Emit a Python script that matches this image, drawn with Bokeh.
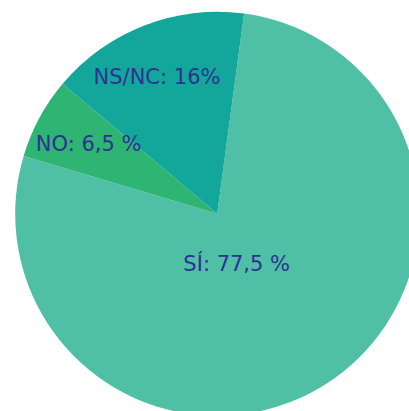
import math
from bokeh.plotting import figure
from bokeh.models import ColumnDataSource
from bokeh.core.properties import value
from bokeh.embed import file_html
from bokeh.resources import INLINE

# data
categories = ["SÍ", "NO", "NS/NC"]
percents = [77.5, 6.5, 16.0]
labels = ["SÍ: 77,5 %", "NO: 6,5 %", "NS/NC: 16%"]
colors = ["#4fbfa6", "#2eb573", "#13a69b"]

W, H = 409, 411
cx, cy = 216.7, H - 213.3
R = 202.0
start_deg = 82.35  # clockwise from here

# label placement (style): radius fraction and angle offset in degrees
label_rf = [0.265, 0.725, 0.74]
label_da = [-11.5, -0.3, 2.6]

starts, ends, lx, ly = [], [], [], []
a = start_deg
for p, rf, da in zip(percents, label_rf, label_da):
    span = p / 100 * 360
    end = a
    start = a - span
    starts.append(math.radians(start))
    ends.append(math.radians(end))
    mid = math.radians((start + end) / 2 + da)
    lx.append(cx + rf * R * math.cos(mid))
    ly.append(cy + rf * R * math.sin(mid))
    a = start

src = ColumnDataSource(dict(cat=categories, start=starts, end=ends, color=colors,
                            lx=lx, ly=ly, label=labels))

p = figure(width=W, height=H, x_range=(0, W), y_range=(0, H),
           output_backend="svg", toolbar_location=None, min_border=0)
p.axis.visible = False
p.grid.visible = False
p.outline_line_color = None
p.background_fill_color = "white"

p.wedge(x=cx, y=cy, radius=R, start_angle="start", end_angle="end",
        fill_color="color", line_color=None, source=src)
p.text(x="lx", y="ly", text="label", source=src, text_align="center",
       text_baseline="middle", text_font=value("DejaVu Sans"), text_font_size="21px",
       text_color="#2e3192")

open("out.html", "w").write(file_html(p, INLINE))
